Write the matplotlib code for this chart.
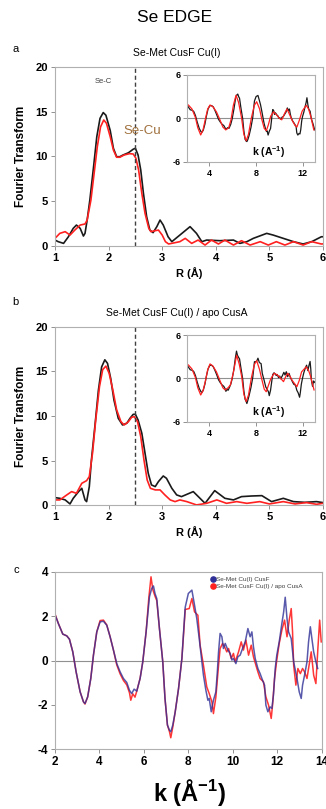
import matplotlib
matplotlib.use('Agg')
import matplotlib.pyplot as plt
import numpy as np

plt.rcParams['font.family'] = ['Liberation Sans', 'DejaVu Sans']
plt.rcParams['mathtext.fontset'] = 'custom'
plt.rcParams['mathtext.rm'] = 'Liberation Sans'
plt.rcParams['mathtext.bf'] = 'Liberation Sans:bold'
plt.rcParams['axes.unicode_minus'] = False

# --- panel a : FT, Se-Met CusF Cu(I) ---
r_a_data = [1.0, 1.06, 1.16, 1.25, 1.34, 1.4, 1.47, 1.53, 1.56, 1.6, 1.65, 1.72, 1.78, 1.84, 1.9, 1.95,
            2.03, 2.09, 2.15, 2.21, 2.27, 2.37, 2.46, 2.5, 2.55, 2.6, 2.65, 2.71, 2.77, 2.83, 2.9, 2.96,
            3.02, 3.11, 3.18, 3.33, 3.52, 3.64, 3.74, 3.83, 4.08, 4.33, 4.45, 4.58, 4.7, 4.95, 5.07,
            5.26, 5.45, 5.63, 5.79, 5.97, 6.0]
ft_a_data = [0.63, 0.45, 0.26, 1.0, 1.94, 2.31, 1.94, 1.08, 1.38, 2.87, 5.1, 8.84, 12.2, 14.25, 14.9, 14.6,
             12.9, 10.9, 9.96, 9.96, 10.15, 10.4, 10.8, 10.9, 10.15, 8.47, 5.86, 3.25, 1.75, 1.46, 2.13, 2.87,
             2.31, 1.0, 0.45, 1.19, 2.13, 1.38, 0.45, 0.63, 0.56, 0.63, 0.26, 0.45, 0.82, 1.38, 1.19,
             0.82, 0.45, 0.19, 0.45, 1.0, 1.0]
r_a_fit = [1.0, 1.09, 1.19, 1.28, 1.37, 1.47, 1.56, 1.6, 1.67, 1.73, 1.79, 1.85, 1.91, 1.96, 2.03, 2.09,
           2.15, 2.21, 2.29, 2.39, 2.46, 2.51, 2.56, 2.62, 2.68, 2.75, 2.79, 2.87, 2.93, 3.0, 3.06, 3.12,
           3.33, 3.43, 3.55, 3.67, 3.8, 3.92, 4.05, 4.17, 4.33, 4.48, 4.64, 4.83, 4.98, 5.13, 5.29, 5.45,
           5.63, 5.79, 5.97, 6.0]
ft_a_fit = [0.82, 1.38, 1.57, 1.19, 1.75, 2.31, 2.43, 2.87, 5.1, 8.1, 11.1, 13.3, 14.07, 13.7, 12.2, 10.7,
            9.9, 9.9, 10.15, 10.3, 10.26, 9.78, 8.47, 5.86, 3.62, 1.94, 1.57, 1.68, 1.75, 1.19, 0.45, 0.19,
            0.45, 0.82, 0.26, 0.63, 0.07, 0.63, 0.19, 0.63, 0.07, 0.56, 0.07, 0.45, 0.07, 0.45, 0.07, 0.45,
            0.07, 0.45, 0.19, 0.2]

# --- panel b : FT, Se-Met CusF Cu(I) / apo CusA ---
r_b_data = [1.0, 1.09, 1.19, 1.28, 1.34, 1.44, 1.5, 1.56, 1.59, 1.64, 1.68, 1.75, 1.81, 1.87, 1.93, 1.98,
            2.04, 2.1, 2.18, 2.26, 2.34, 2.4, 2.46, 2.5, 2.55, 2.62, 2.68, 2.74, 2.8, 2.87, 2.93, 3.02,
            3.08, 3.18, 3.27, 3.36, 3.58, 3.8, 3.98, 4.17, 4.33, 4.48, 4.67, 4.86, 5.04, 5.26, 5.45,
            5.66, 5.88, 6.0]
ft_b_data = [0.88, 0.8, 0.62, 0.17, 0.8, 1.55, 1.92, 0.62, 0.43, 2.1, 5.1, 9.2, 12.9, 15.5, 16.3, 15.9,
             14.2, 11.8, 9.76, 9.01, 9.2, 9.76, 10.2, 10.2, 9.57, 8.08, 5.84, 3.6, 2.3, 2.11, 2.67, 3.3,
             3.04, 1.92, 1.18, 0.99, 1.55, 0.24, 1.66, 0.8, 0.62, 0.99, 1.06, 1.1, 0.43, 0.8, 0.43,
             0.35, 0.43, 0.32]
r_b_fit = [1.0, 1.09, 1.22, 1.31, 1.4, 1.5, 1.59, 1.64, 1.7, 1.76, 1.83, 1.89, 1.95, 2.01, 2.08, 2.15,
           2.23, 2.29, 2.37, 2.43, 2.48, 2.54, 2.6, 2.66, 2.72, 2.78, 2.87, 2.96, 3.05, 3.15, 3.24, 3.33,
           3.46, 3.64, 3.83, 4.02, 4.2, 4.39, 4.58, 4.82, 5.0, 5.26, 5.48, 5.69, 5.88, 6.0]
ft_b_fit = [0.62, 0.62, 1.18, 1.55, 1.36, 2.48, 2.78, 3.23, 5.84, 9.57, 13.3, 15.2, 15.6, 14.8, 12.9, 10.7,
            9.38, 9.01, 9.38, 9.87, 9.94, 9.38, 7.7, 5.1, 2.85, 1.92, 1.74, 1.74, 1.18, 0.62, 0.43, 0.62,
            0.43, 0.06, 0.24, 0.62, 0.24, 0.43, 0.24, 0.43, 0.17, 0.43, 0.17, 0.32, 0.13, 0.24]

# --- inset fits (k space) ---
k_fit_a = [2.2, 2.5, 2.8, 3.0, 3.25, 3.45, 3.65, 3.85, 4.05, 4.3, 4.6, 4.9, 5.15, 5.4, 5.65, 5.85, 6.05,
           6.28, 6.5, 6.75, 6.95, 7.15, 7.35, 7.6, 7.85, 8.05, 8.3, 8.5, 8.7, 8.88, 9.05, 9.25, 9.5,
           9.75, 10.0, 10.2, 10.45, 10.65, 10.85, 11.1, 11.35, 11.5, 11.7, 11.95, 12.3, 12.5, 12.7, 12.95]
chi_fit_a = [1.84, 1.3, 0.1, -1.3, -2.3, -1.6, -0.1, 1.3, 1.85, 1.6, 0.9, -0.2, -1.2, -1.6, -1.3, -0.2, 1.8,
             3.2, 2.2, 0.1, -2.2, -3.1, -2.2, 0.1, 1.8, 2.3, 1.3, -0.2, -1.4, -1.7, -0.9, 0.3, 0.9,
             0.5, 0.0, -0.2, 0.7, 1.3, 0.6, -0.3, -1.0, -1.2, -0.3, 1.0, 1.8, 1.3, 0.2, -1.6]
k_fit_b = [2.2, 2.5, 2.8, 3.0, 3.25, 3.45, 3.65, 3.85, 4.05, 4.3, 4.6, 4.9, 5.15, 5.35, 5.6, 5.8, 6.05,
           6.33, 6.55, 6.77, 6.95, 7.15, 7.35, 7.6, 7.85, 8.05, 8.3, 8.5, 8.7, 8.87, 9.05, 9.25, 9.55,
           9.8, 10.0, 10.35, 10.5, 10.7, 10.9, 11.1, 11.5, 11.7, 11.9, 12.3, 12.5, 12.65, 12.97]
chi_fit_b = [1.85, 1.3, 0.1, -1.3, -2.3, -1.7, -0.4, 1.2, 2.0, 1.7, 0.9, -0.3, -1.3, -1.6, -1.3, -0.9, 0.8,
             3.2, 2.0, 0.2, -2.2, -3.2, -2.3, 0.1, 1.9, 2.45, 1.2, -0.2, -1.5, -1.85, -1.0, -0.1, 0.7,
             0.5, 0.2, -0.45, 0.1, 0.7, 0.3, -0.3, -1.15, -0.3, 0.9, 1.6, 1.1, 0.4, -1.6]

# --- panel c : EXAFS k-space ---
k_cusf = [2.0, 2.15, 2.35, 2.53, 2.65, 2.8, 2.95, 3.13, 3.28, 3.35, 3.47, 3.61, 3.73, 3.88, 4.03, 4.18,
          4.33, 4.48, 4.63, 4.78, 4.93, 5.08, 5.23, 5.35, 5.45, 5.56, 5.68, 5.83, 5.95, 6.1, 6.25, 6.35,
          6.43, 6.5, 6.58, 6.7, 6.85, 6.95, 7.06, 7.15, 7.21, 7.3, 7.41, 7.56, 7.71, 7.8, 7.86, 8.0,
          8.16, 8.28, 8.38, 8.49, 8.61, 8.68, 8.79, 8.88, 8.94, 9.03, 9.13, 9.24, 9.31, 9.36, 9.43,
          9.51, 9.58, 9.66, 9.78, 9.88, 9.96, 10.03, 10.14, 10.23, 10.33, 10.44, 10.56, 10.68, 10.78,
          10.86, 10.93, 11.01, 11.13, 11.23, 11.34, 11.43, 11.49, 11.58, 11.68, 11.76, 11.83, 11.91,
          11.98, 12.09, 12.21, 12.29, 12.36, 12.44, 12.51, 12.63, 12.74, 12.89, 12.99, 13.08, 13.14,
          13.23, 13.34, 13.41, 13.49, 13.56, 13.64, 13.74, 13.82]
chi_cusf = [2.07, 1.67, 1.19, 1.11, 0.96, 0.39, -0.51, -1.41, -1.86, -1.94, -1.64, -0.81, 0.24, 1.29, 1.74, 1.77,
            1.59, 1.07, 0.47, -0.14, -0.51, -0.81, -0.99, -1.34, -1.49, -1.29, -1.38, -0.81, -0.06, 1.29, 2.87, 3.24,
            3.36, 3.02, 2.79, 1.44, -0.06, -1.71, -2.91, -3.14, -3.21, -2.91, -2.31, -1.26, 0.09, 1.5, 2.4, 3.02,
            3.17, 2.49, 1.89, 0.99, -0.06, -0.66, -1.34, -1.79, -1.71, -2.31, -1.79, -1.41, -0.44, 0.39, 1.22,
            1.07, 0.54, 0.77, 0.47, 0.32, 0.02, 0.09, -0.14, 0.17, 0.24, 0.54, 0.84, 1.44, 1.07,
            1.29, 0.62, 0.09, -0.36, -0.59, -0.89, -1.11, -2.01, -2.31, -2.09, -2.16, -1.56, -0.36,
            0.24, 0.84, 1.67, 2.19, 2.85, 1.89, 1.29, 0.99, -0.06, -0.81, -1.41, -1.71, -1.11,
            -0.66, -0.06, 0.84, 1.52, 0.99, 0.39, -0.06, -0.36]
k_cusa = [2.0, 2.15, 2.35, 2.53, 2.65, 2.8, 2.95, 3.13, 3.28, 3.35, 3.47, 3.61, 3.73, 3.88, 4.03, 4.18,
          4.33, 4.48, 4.63, 4.78, 4.93, 5.08, 5.23, 5.35, 5.41, 5.5, 5.6, 5.68, 5.83, 5.95, 6.1, 6.22,
          6.32, 6.4, 6.5, 6.58, 6.7, 6.85, 6.95, 7.06, 7.15, 7.21, 7.3, 7.41, 7.56, 7.71, 7.8,
          7.86, 8.04, 8.16, 8.28, 8.43, 8.53, 8.68, 8.83, 8.94, 9.06, 9.13, 9.24, 9.36, 9.43, 9.54,
          9.63, 9.73, 9.81, 9.93, 10.03, 10.11, 10.26, 10.38, 10.48, 10.59, 10.71, 10.83, 10.93, 11.04,
          11.13, 11.23, 11.38, 11.49, 11.61, 11.73, 11.79, 11.88, 11.98, 12.09, 12.21, 12.33, 12.44,
          12.54, 12.63, 12.69, 12.74, 12.84, 12.93, 13.04, 13.14, 13.23, 13.34, 13.41, 13.53, 13.64,
          13.74, 13.83, 13.91, 13.98]
chi_cusa = [2.1, 1.67, 1.19, 1.11, 0.96, 0.39, -0.51, -1.41, -1.86, -1.96, -1.64, -0.81, 0.24, 1.29, 1.8, 1.82,
            1.6, 1.07, 0.47, -0.2, -0.6, -0.9, -1.1, -1.45, -1.79, -1.5, -1.65, -1.38, -0.8, -0.06, 1.29, 2.8,
            3.77, 3.2, 2.9, 2.7, 1.44, -0.06, -1.71, -2.91, -3.2, -3.48, -3.0, -2.31, -1.26, 0.09, 1.4,
            2.3, 2.34, 2.79, 2.19, 2.04, 0.69, -0.21, -1.19, -1.49, -1.86, -2.39, -1.64, -0.21, 0.54, 0.77,
            0.62, 0.39, 0.54, 0.09, 0.32, -0.06, 0.39, 0.84, 0.47, 0.92, 0.24, 0.69, 0.17, -0.21,
            -0.51, -0.81, -0.96, -1.64, -2.01, -2.61, -2.01, -0.81, 0.02, 0.77, 1.37, 1.82, 1.07,
            1.82, 2.34, 1.29, -0.21, -1.11, -0.36, -0.59, -0.36, -0.51, -0.81, -0.36, 0.39, -0.66,
            -1.04, 0.54, 1.82, 0.84]

SPINE = '#b0b0b0'
BLACK = '#1a1a1a'
RED = '#ff2020'
BLUE = '#2f2f98'


def style_axes(ax, size):
    for s in ax.spines.values():
        s.set_color(SPINE)
        s.set_linewidth(0.8)
    ax.tick_params(direction='out', length=3, width=0.6, color='#808080', labelsize=size, pad=2)
    for lab in ax.get_xticklabels() + ax.get_yticklabels():
        lab.set_fontweight('bold')


def ft_panel(ax, r1, f1, r2, f2):
    ax.plot(r1, f1, color=BLACK, lw=1.2)
    ax.plot(r2, f2, color=RED, lw=1.2)
    ax.axvline(2.49, color='#404040', lw=1.0, ls=(0, (3, 2)))
    ax.set_xlim(1, 6)
    ax.set_ylim(0, 20)
    ax.set_xticks([1, 2, 3, 4, 5, 6])
    ax.set_yticks([0, 5, 10, 15, 20])
    style_axes(ax, 8)
    ax.set_ylabel('Fourier Transform', fontsize=8.5, fontweight='bold', labelpad=6)
    ax.set_xlabel('R (Å)', fontsize=8, fontweight='bold', labelpad=3)


def inset_panel(ax, kd, cd, kf, cf):
    ax.axhline(0, color='#909090', lw=0.8)
    ax.plot(kd, cd, color=BLACK, lw=0.9)
    ax.plot(kf, cf, color=RED, lw=0.9)
    ax.set_xlim(2.1, 13.05)
    ax.set_ylim(-6, 6)
    ax.set_xticks([4, 8, 12])
    ax.set_yticks([-6, 0, 6])
    style_axes(ax, 6.5)
    ax.text(9.1, -4.6, r'k (A$^{\mathbf{-1}}$)', fontsize=7.5, fontweight='bold', ha='center', va='center')


fig = plt.figure(figsize=(3.26, 8.09), dpi=100)

fig.text(0.537, 1 - 17 / 809, 'Se EDGE', fontsize=12.5, ha='center', va='center')

# panel a
ax_a = fig.add_axes([0.1687, 0.6963, 0.822, 0.2209])
ft_panel(ax_a, r_a_data, ft_a_data, r_a_fit, ft_a_fit)
ax_a.text(1.9, 18.4, 'Se-C', fontsize=5.5, color='#404040', ha='center', va='center')
ax_a.text(2.63, 12.8, 'Se-Cu', fontsize=9.5, color='#a0703c', ha='center', va='center')
fig.text(0.037, 1 - 49 / 809, 'a', fontsize=8, ha='left', va='center')
fig.text(0.543, 1 - 53 / 809, 'Se-Met CusF Cu(I)', fontsize=7.5, ha='center', va='center')

ins_a = fig.add_axes([0.5745, 0.8001, 0.3917, 0.1072])
inset_panel(ins_a, k_cusf, chi_cusf, k_fit_a, chi_fit_a)

# panel b
ax_b = fig.add_axes([0.1687, 0.3752, 0.822, 0.2209])
ft_panel(ax_b, r_b_data, ft_b_data, r_b_fit, ft_b_fit)
fig.text(0.037, 1 - 302 / 809, 'b', fontsize=8, ha='left', va='center')
fig.text(0.543, 1 - 313 / 809, 'Se-Met CusF Cu(I) / apo CusA', fontsize=7.5, ha='center', va='center')

ins_b = fig.add_axes([0.5745, 0.4787, 0.3917, 0.1072])
inset_panel(ins_b, k_cusa, chi_cusa, k_fit_b, chi_fit_b)

# panel c
ax_c = fig.add_axes([0.1687, 0.0738, 0.818, 0.2195])
ax_c.axhline(0, color='#909090', lw=0.8)
ax_c.plot(k_cusa, chi_cusa, color=RED, lw=1.1, alpha=0.9)
ax_c.plot(k_cusf, chi_cusf, color=BLUE, lw=1.1, alpha=0.8)
ax_c.set_xlim(2, 14)
ax_c.set_ylim(-4, 4)
ax_c.set_xticks([2, 4, 6, 8, 10, 12, 14])
ax_c.set_yticks([-4, -2, 0, 2, 4])
style_axes(ax_c, 8.5)
h1 = ax_c.scatter([], [], s=14, color=BLUE)
h2 = ax_c.scatter([], [], s=14, color=RED)
ax_c.legend([h1, h2], ['Se-Met Cu(I) CusF', 'Se-Met CusF Cu(I) / apo CusA'],
            loc='upper left', bbox_to_anchor=(0.57, 0.995), frameon=False, fontsize=4.6,
            handlelength=0.6, handletextpad=0.2, borderpad=0.1, labelspacing=0.25,
            labelcolor='#404040')
fig.text(0.583, 1 - 793 / 809, r'k (Å$^{\mathbf{-1}}$)', fontsize=17, fontweight='bold',
         ha='center', va='center')
fig.text(0.04, 1 - 570 / 809, 'c', fontsize=8, ha='left', va='center')

fig.savefig('out.png', dpi=100)
